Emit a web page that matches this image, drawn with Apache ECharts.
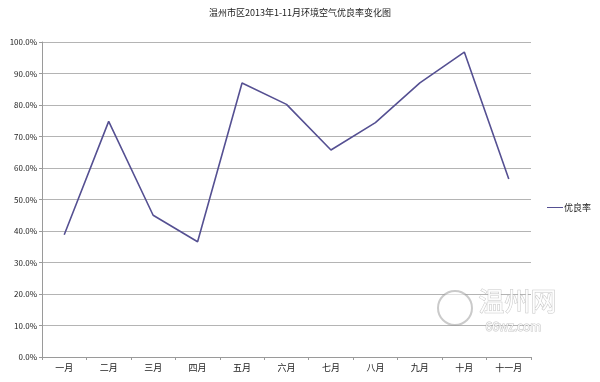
<!DOCTYPE html>
<html><head><meta charset="utf-8">
<script src="https://cdn.jsdelivr.net/npm/echarts@6/dist/echarts.min.js"></script>
<style>html,body{margin:0;padding:0;background:#fff}#c{width:600px;height:382px}</style>
</head><body><div id="c"></div>
<script>
const title = '温州市区2013年1-11月环境空气优良率变化图';
const categories = ['一月','二月','三月','四月','五月','六月','七月','八月','九月','十月','十一月'];
const seriesName = '优良率';
const values = [38.8, 74.8, 45.0, 36.6, 87.0, 80.2, 65.7, 74.4, 87.0, 96.8, 56.5];
const yTicks = [0,10,20,30,40,50,60,70,80,90,100];

const F = '"Noto Sans CJK SC", "DejaVu Sans", sans-serif';
const chart = echarts.init(document.getElementById('c'));
chart.setOption({
  animation: false,
  backgroundColor: '#fff',
  title: {text: title, left: 'center', top: 3, textStyle: {fontFamily: F, fontSize: 9, fontWeight: 'normal', color: '#222'}},
  legend: {data: [seriesName], orient: 'vertical', left: 542, top: 198, itemWidth: 16, itemHeight: 8, itemGap: 2,
    icon: 'path://M0,4 L16,4 L16,5 L0,5 Z',
    textStyle: {fontFamily: F, fontSize: 9, color: '#222', padding: [0,0,0,-4]}},
  grid: {left: 42, right: 69, top: 42, bottom: 25, containLabel: false},
  xAxis: {type: 'category', data: categories, boundaryGap: true,
    axisLine: {lineStyle: {color: '#9a9a9a', width: 1}},
    axisTick: {show: true, length: 3, lineStyle: {color: '#9a9a9a'}},
    axisLabel: {fontFamily: F, fontSize: 9, color: '#222', margin: 6}},
  yAxis: {type: 'value', min: 0, max: 100, interval: 10,
    axisLine: {show: true, lineStyle: {color: '#9a9a9a', width: 1}},
    axisTick: {show: true, length: 3, lineStyle: {color: '#9a9a9a'}},
    splitLine: {lineStyle: {color: '#b4b4b4', width: 1}},
    axisLabel: {fontFamily: F, fontSize: 8, color: '#222', margin: 5, formatter: v => v.toFixed(1) + '%'}},
  series: [{name: seriesName, type: 'line', data: values, symbol: 'none',
    lineStyle: {color: '#555092', width: 1.6}, itemStyle: {color: '#555092'}}],
  graphic: [
    {type: 'text', left: 478, top: 288, z: 10, style: {text: '温州网', fontFamily: F, fontSize: 26, fill: 'rgba(255,255,255,0.9)', stroke: 'rgba(150,150,150,0.55)', lineWidth: 1}},
    {type: 'text', left: 485, top: 320, z: 10, style: {text: '66wz.com', fontFamily: F, fontSize: 12, fill: 'rgba(255,255,255,0.9)', stroke: 'rgba(150,150,150,0.55)', lineWidth: 1}},
    {type: 'circle', shape: {cx: 455, cy: 308, r: 17}, z: 10, style: {fill: 'rgba(255,255,255,0.6)', stroke: 'rgba(150,150,150,0.5)', lineWidth: 2}}
  ]
});
</script></body></html>
